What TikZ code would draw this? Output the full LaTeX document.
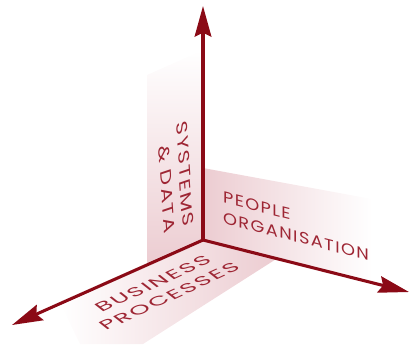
\documentclass[tikz,border=0pt]{standalone}
\usepackage{fontspec}
\setmainfont{Poppins}[LetterSpace=8]
\usetikzlibrary{arrows.meta}
\definecolor{axisred}{RGB}{139,10,22}
\definecolor{labelred}{RGB}{158,38,52}
\definecolor{panelpink}{RGB}{236,204,209}

\begin{document}
\begin{tikzpicture}[x=0.75pt,y=0.75pt,yscale=-1,xscale=1,
    axisline/.style={draw=axisred, line width=2.3pt, -{Stealth[length=23pt,width=12.5pt,inset=3pt]}},
    axislabel/.style={text=labelred, inner sep=0pt},
    ]
    \useasboundingbox (0,0) rectangle (411,344);
    
    % Axis ends
    \coordinate (origin) at (203,240);
    \coordinate (sysTip) at (203,6);
    \coordinate (peopleTip) at (409,292);
    \coordinate (procTip) at (12,325);
    
    %Shape: Polygon [systems wall]
    \shade [top color=white, bottom color=panelpink] (147,265) -- (origin) -- (203,50) -- (147,75) -- cycle ;
    %Shape: Polygon [people wall]
    \shade [left color=panelpink, right color=white] (origin) -- (203,168) -- (372,199) -- (372,282) -- cycle ;
    %Shape: Polygon [process floor]
    \shade [left color=white, right color=panelpink] (origin) -- (277,258.5) -- (143,344) -- (80,344) -- (60,303) -- cycle ;
    
    % Text Node
    \node (sysLabel) [axislabel, align=right, font=\fontsize{12}{14.8}\selectfont, cm={0.09,-1.375,0.95,0.32,(0,0)}] at (175.5,177) {SYSTEMS\\\& DATA};
    % Text Node
    \node (peopleLabel) [axislabel, align=left, font=\fontsize{12}{15.8}\selectfont, cm={1.11,-0.284,0,1,(0,0)}] at (296,226) {PEOPLE\\ORGANISATION};
    % Text Node
    \node (procLabel) [axislabel, align=center, font=\fontsize{12}{15.5}\selectfont, cm={1.37,0.63,-0.79,0.62,(0,0)}] at (161,290) {BUSINESS\\PROCESSES};
    
    %Straight Lines
    \draw [axisline] (origin) -- (sysTip) ;
    %Straight Lines
    \draw [axisline] (origin) -- (peopleTip) ;
    %Straight Lines
    \draw [axisline] (origin) -- (procTip) ;
    
\end{tikzpicture}
\end{document}
